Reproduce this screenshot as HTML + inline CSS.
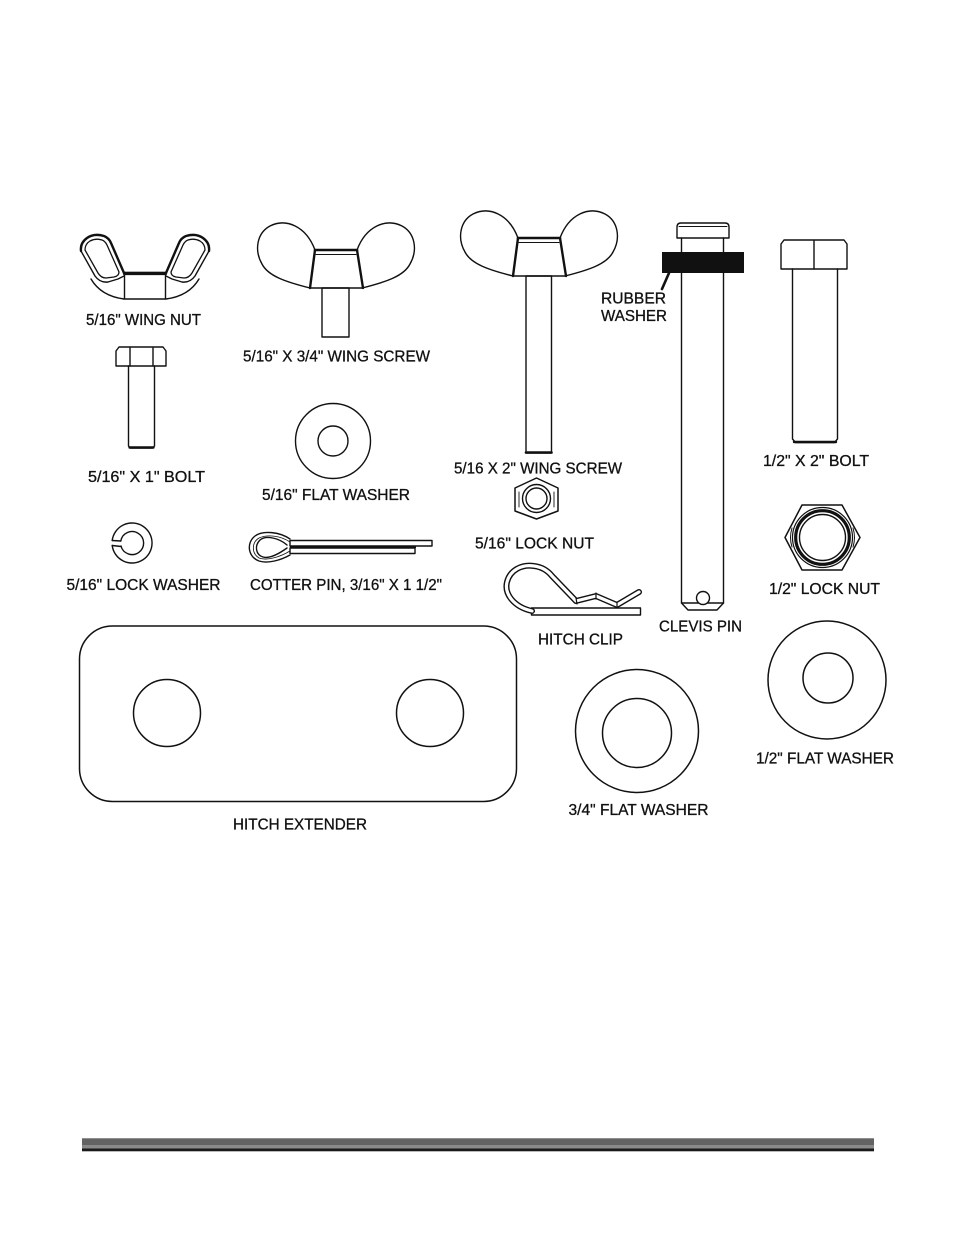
<!DOCTYPE html>
<html>
<head>
<meta charset="utf-8">
<style>
html,body{margin:0;padding:0;background:#fff;}
svg{display:block;}
</style>
</head>
<body>
<svg width="954" height="1235" viewBox="0 0 954 1235" xmlns="http://www.w3.org/2000/svg">
<rect x="0" y="0" width="954" height="1235" fill="#fff"/>
<defs>
  <g id="wnl">
    <path d="M81,251 Q80,243 87,238 Q94,233 104,236 Q109,238 111,243 L124,273" stroke-width="2.4"/>
    <path d="M81,251 L95,276 Q100,283 108,282 L118,279 L124,276" stroke-width="1.4"/>
    <path d="M85,250 Q85,244 90,241 Q96,238 102,240 Q105,241 107,245 L119,272 Q119,276 114,277 L106,278 Q101,278 98,273 Z" stroke-width="1.3"/>
    <path d="M91,279 Q101,296 124,299" stroke-width="1.4"/>
  </g>
  <g id="ws">
    <path d="M310,288 C286,282 268,276 262,264 C254,250 257,233 270,226 C286,218 306,226 315,250"/>
    <path d="M362,288 C386,282 404,276 410,264 C418,250 415,233 402,226 C386,218 366,226 357,250"/>
    <path d="M315,250 L357,250 L363,288 L310,288 Z" stroke-width="1.5"/>
    <line x1="315" y1="250" x2="357" y2="250" stroke-width="2.6"/>
    <line x1="316" y1="254.5" x2="356" y2="254.5" stroke-width="1"/>
    <line x1="315" y1="250" x2="310" y2="288" stroke-width="2.4"/>
    <line x1="357" y1="250" x2="363" y2="288" stroke-width="2.4"/>
  </g>
</defs>

<g fill="none" stroke="#111" stroke-width="1.4" stroke-linejoin="round" stroke-linecap="round">
  <!-- Wing nut -->
  <use href="#wnl"/>
  <use href="#wnl" transform="translate(290,0) scale(-1,1)"/>
  <rect x="124.5" y="272.5" width="41" height="26.5"/>
  <line x1="124.5" y1="273.5" x2="165.5" y2="273.5" stroke-width="3.2"/>

  <!-- 3/4 wing screw -->
  <use href="#ws"/>
  <rect x="322" y="288" width="27" height="49"/>

  <!-- 2in wing screw -->
  <use href="#ws" transform="translate(203,-12)"/>
  <rect x="526" y="276" width="25.5" height="177"/>
  <line x1="526" y1="452.5" x2="551.5" y2="452.5" stroke-width="2.6"/>

  <!-- Clevis pin -->
  <path d="M677,238 L677,227 Q677,223 681,223 L725,223 Q729,223 729,227 L729,238 Z"/>
  <line x1="679" y1="226.5" x2="727" y2="226.5" stroke-width="1"/>
  <path d="M681.5,238 V252 M723.5,238 V252"/>
  <rect x="662" y="252" width="82" height="21" fill="#111" stroke="none"/>
  <path d="M669,273 L662,289" stroke-width="2.6"/>
  <path d="M681.5,273 V603 L688,610 H717 L723.5,603 V273"/>
  <line x1="681.5" y1="603" x2="723.5" y2="603"/>
  <circle cx="703" cy="598" r="6.5" fill="#fff"/>

  <!-- 5/16 bolt -->
  <path d="M116,366 V351 L119,347 H163 L166,351 V366 Z"/>
  <path d="M130,348 V366 M153,348 V366"/>
  <path d="M128.5,366 V446 L130.5,448 H152.5 L154.5,446 V366"/>
  <line x1="129.5" y1="447.5" x2="153.5" y2="447.5" stroke-width="2.4"/>

  <!-- 1/2 bolt -->
  <path d="M781,269 V244 L784,240 H844 L847,244 V269 Z"/>
  <line x1="814" y1="241" x2="814" y2="269"/>
  <path d="M792.5,269 V439 L795.5,442.5 H834.5 L837.5,439 V269"/>
  <line x1="794" y1="442" x2="836" y2="442" stroke-width="2.4"/>

  <!-- 5/16 flat washer -->
  <circle cx="333" cy="441" r="37.5"/>
  <circle cx="333" cy="441" r="15"/>

  <!-- 5/16 lock nut -->
  <polygon points="536.5,478 558,488 558,511 536.5,519 515,511 515,488" stroke-width="1.5"/>
  <path d="M519,492 L519,507 M554,492 L554,507" stroke-width="0.9"/>
  <circle cx="536.5" cy="498.5" r="14"/>
  <circle cx="536.5" cy="498.5" r="10.5"/>

  <!-- 1/2 lock nut -->
  <polygon points="802,505 842,505 860,537.5 842,570 802,570 785,537.5" stroke-width="1.5"/>
  <path d="M792,528 Q789,537.5 792,547 M853,528 Q856,537.5 853,547" stroke-width="1"/>
  <circle cx="822.5" cy="537.5" r="30" stroke-width="1.2"/>
  <circle cx="822.5" cy="537.5" r="26.8" stroke-width="3.2"/>
  <circle cx="822.5" cy="537.5" r="23" stroke-width="1.4"/>

  <!-- Lock washer -->
  <path d="M112.2,540.5 A20,20 0 1,1 112.2,545.5"/>
  <path d="M120.8,541 A11.5,11.5 0 1,1 121,546"/>
  <path d="M112.2,540.5 L120.8,541 M112.2,545.5 L121,546.5"/>

  <!-- Cotter pin -->
  <rect x="290" y="540.5" width="142" height="5.5"/>
  <rect x="290" y="546" width="126" height="2" fill="#111" stroke="none"/>
  <rect x="290" y="548" width="125" height="5.5"/>
  <path d="M290,539 C280,532 263,530 255,536 C246,543 248,557 259,561 C268,564 281,560 290,555"/>
  <path d="M287,545 C279,538 266,535 260,540 C254,546 256,555 263,557 C270,559 280,553 287,548"/>
  <path d="M290,542 C281,536 268,534 259,538 C252,542 251,553 259,558 C267,561 280,557 290,551" stroke-width="0.8"/>

  <!-- Hitch clip -->
  <rect x="531.5" y="608" width="109" height="7"/>
  <path d="M532,611 C514,607 504,594 507,582 C510,570 522,564 534,566 C542,567 548,571 552,576 L576,601 L596,596 L617,605 L639,592" stroke="#111" stroke-width="6"/>
  <path d="M532,611 C514,607 504,594 507,582 C510,570 522,564 534,566 C542,567 548,571 552,576 L576,601 L596,596 L617,605 L639,592" stroke="#fff" stroke-width="3.2"/>
  <path d="M576,598 L577,604 M596,593 L596,599 M617,602 L617,608" stroke-width="1.2"/>

  <!-- Hitch extender -->
  <rect x="79.5" y="626" width="437" height="175.5" rx="33" ry="33" stroke-width="1.5"/>
  <circle cx="167" cy="713" r="33.5" stroke-width="1.5"/>
  <circle cx="430" cy="713" r="33.5" stroke-width="1.5"/>

  <!-- 3/4 flat washer -->
  <circle cx="637" cy="731" r="61.5" stroke-width="1.5"/>
  <circle cx="637" cy="733" r="34.5" stroke-width="1.5"/>

  <!-- 1/2 flat washer -->
  <circle cx="827" cy="680" r="59" stroke-width="1.5"/>
  <circle cx="828" cy="678" r="25" stroke-width="1.5"/>
</g>

<!-- Bottom bar -->
<rect x="82" y="1138" width="792" height="7" fill="#636363"/>
<rect x="82" y="1138" width="792" height="0.8" fill="#9a9a9a"/>
<rect x="82" y="1145" width="792" height="3.5" fill="#8a8a8a"/>
<rect x="82" y="1148.5" width="792" height="2.8" fill="#1a1a1a"/>

<g font-family="'Liberation Sans', Arial, sans-serif" font-size="15.5" fill="#111" stroke="#111" stroke-width="0.3" lengthAdjust="spacingAndGlyphs">
  <text x="86" y="325" textLength="115" lengthAdjust="spacingAndGlyphs">5/16" WING NUT</text>
  <text x="243" y="361.5" textLength="187" lengthAdjust="spacingAndGlyphs">5/16" X 3/4" WING SCREW</text>
  <text x="88" y="482" textLength="117" lengthAdjust="spacingAndGlyphs">5/16" X 1" BOLT</text>
  <text x="262" y="500" textLength="148" lengthAdjust="spacingAndGlyphs">5/16" FLAT WASHER</text>
  <text x="454" y="473.5" textLength="168" lengthAdjust="spacingAndGlyphs">5/16 X 2" WING SCREW</text>
  <text x="763" y="466" textLength="106" lengthAdjust="spacingAndGlyphs">1/2" X 2" BOLT</text>
  <text x="601" y="303.5" textLength="65" lengthAdjust="spacingAndGlyphs">RUBBER</text>
  <text x="601" y="321" textLength="66" lengthAdjust="spacingAndGlyphs">WASHER</text>
  <text x="475" y="548.5" textLength="119" lengthAdjust="spacingAndGlyphs">5/16" LOCK NUT</text>
  <text x="769" y="594" textLength="111" lengthAdjust="spacingAndGlyphs">1/2" LOCK NUT</text>
  <text x="659" y="631.5" textLength="83" lengthAdjust="spacingAndGlyphs">CLEVIS PIN</text>
  <text x="538" y="644.5" textLength="85" lengthAdjust="spacingAndGlyphs">HITCH CLIP</text>
  <text x="66.5" y="590" textLength="154" lengthAdjust="spacingAndGlyphs">5/16" LOCK WASHER</text>
  <text x="250" y="590" textLength="192" lengthAdjust="spacingAndGlyphs">COTTER PIN, 3/16" X 1 1/2"</text>
  <text x="233" y="829.5" textLength="134" lengthAdjust="spacingAndGlyphs">HITCH EXTENDER</text>
  <text x="568.5" y="815" textLength="140" lengthAdjust="spacingAndGlyphs">3/4" FLAT WASHER</text>
  <text x="756" y="763.5" textLength="138" lengthAdjust="spacingAndGlyphs">1/2" FLAT WASHER</text>
</g>
</svg>
</body>
</html>
